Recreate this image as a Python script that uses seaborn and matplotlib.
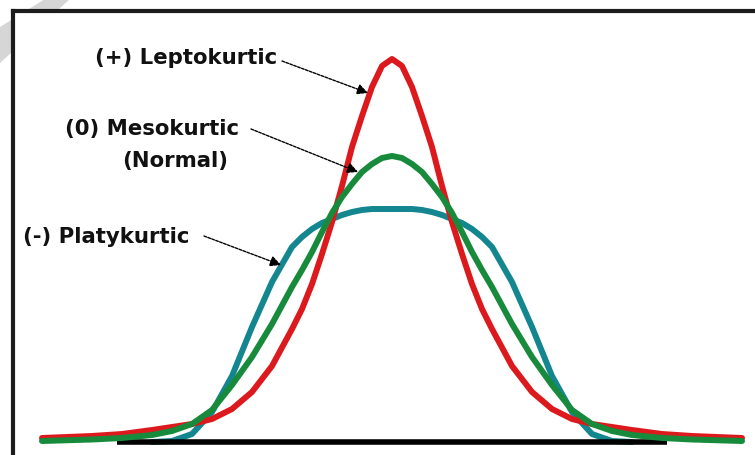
import pandas as pd
import seaborn as sns
import matplotlib.pyplot as plt
from matplotlib.patches import Polygon

# donnees (x en unites, hauteur au-dessus de la ligne de base)
x_vals = [-3.5, -3.0, -2.7, -2.4, -2.2, -2.0, -1.8, -1.6, -1.4, -1.2,
          -1.0, -0.9, -0.8, -0.7, -0.6, -0.5, -0.4, -0.3, -0.2, -0.1,
          0.0,
          0.1, 0.2, 0.3, 0.4, 0.5, 0.6, 0.7, 0.8, 0.9, 1.0,
          1.2, 1.4, 1.6, 1.8, 2.0, 2.2, 2.4, 2.7, 3.0, 3.5]

lepto = [0.04, 0.06, 0.08, 0.12, 0.15, 0.18, 0.23, 0.33, 0.50, 0.76,
         1.13, 1.33, 1.58, 1.88, 2.20, 2.56, 2.95, 3.26, 3.55, 3.76,
         3.83,
         3.76, 3.55, 3.26, 2.95, 2.56, 2.20, 1.88, 1.58, 1.33, 1.13,
         0.76, 0.50, 0.33, 0.23, 0.18, 0.15, 0.12, 0.08, 0.06, 0.04]

meso = [0.01, 0.025, 0.04, 0.07, 0.11, 0.18, 0.32, 0.57, 0.85, 1.18,
        1.55, 1.72, 1.90, 2.10, 2.29, 2.45, 2.58, 2.70, 2.78, 2.84,
        2.86,
        2.84, 2.78, 2.70, 2.58, 2.45, 2.29, 2.10, 1.90, 1.72, 1.55,
        1.18, 0.85, 0.57, 0.32, 0.18, 0.11, 0.07, 0.04, 0.025, 0.01]

# la courbe bleue disparait sous la ligne noire aux extremites
platy = [None, None, None, 0.0, 0.01, 0.08, 0.30, 0.66, 1.15, 1.60,
         1.95, 2.05, 2.13, 2.19, 2.23, 2.27, 2.30, 2.32, 2.33, 2.33,
         2.33,
         2.33, 2.33, 2.32, 2.30, 2.27, 2.23, 2.19, 2.13, 2.05, 1.95,
         1.60, 1.15, 0.66, 0.30, 0.08, 0.01, 0.0, None, None, None]

base_x = [-2.75, 2.75]
base_y = [0.0, 0.0]

df = pd.DataFrame({'x': x_vals, 'lepto': lepto, 'meso': meso, 'platy': platy})
df_platy = df.dropna(subset=['platy'])

sns.set_theme(style='white')
plt.rcParams['font.family'] = ['DejaVu Sans']

W, H = 755, 456
fig = plt.figure(figsize=(W / 100, H / 100), dpi=100)

# bande grise en haut a gauche (derriere le cadre)
stripe = Polygon([(45 / W, 1), (70 / W, 1), (0, 1 - 64 / H), (0, 1 - 28 / H)],
                 closed=True, transform=fig.transFigure, facecolor='#d6d6d6',
                 edgecolor='none', zorder=0)
fig.add_artist(stripe)

ax = fig.add_axes([13 / W, 0, 1 - 13 / W, 1 - 12 / H])
ax.set_facecolor('white')
ax.set_zorder(1)

line_kw = dict(lw=4.3, sort=False, estimator=None,
               solid_joinstyle='round', solid_capstyle='round')
sns.lineplot(data=df_platy, x='x', y='platy', ax=ax, color='#138690',
             zorder=1, **line_kw)
ax.plot(base_x, base_y, color='black', lw=4, solid_capstyle='butt', zorder=2)
sns.lineplot(data=df, x='x', y='lepto', ax=ax, color='#dc1a1e',
             zorder=3, **line_kw)
sns.lineplot(data=df, x='x', y='meso', ax=ax, color='#178a3c',
             zorder=4, **line_kw)

ax.set_xlim(-3.79, 3.63)
ax.set_ylim(-0.13, 4.31)
ax.set_xticks([])
ax.set_yticks([])
ax.set_xlabel('')
ax.set_ylabel('')
for side in ['right', 'bottom']:
    ax.spines[side].set_visible(False)
for side in ['left', 'top']:
    ax.spines[side].set_color('#1c1c1c')
    ax.spines[side].set_linewidth(3)

txt = dict(fontsize=15.3, fontweight='bold', color='#111111',
           xycoords='figure pixels', va='center')
ax.annotate('(+) Leptokurtic', xy=(95, H - 58), ha='left', **txt)
ax.annotate('(0) Mesokurtic', xy=(65, H - 129), ha='left', **txt)
ax.annotate('(Normal)', xy=(175, H - 161), ha='center', **txt)
ax.annotate('(-) Platykurtic', xy=(23, H - 237), ha='left', **txt)

arrow = dict(arrowstyle='-|>', color='black', lw=1, ls=(0, (2, 1)),
             mutation_scale=16, shrinkA=0, shrinkB=0)
for start, tip in [((282, 62), (368, 94)),
                   ((251, 130), (358, 173)),
                   ((204, 237), (281, 266))]:
    ax.annotate('', xy=(tip[0], H - tip[1]), xytext=(start[0], H - start[1]),
                xycoords='figure pixels', textcoords='figure pixels',
                arrowprops=arrow)

plt.savefig('out.png', dpi=100)
